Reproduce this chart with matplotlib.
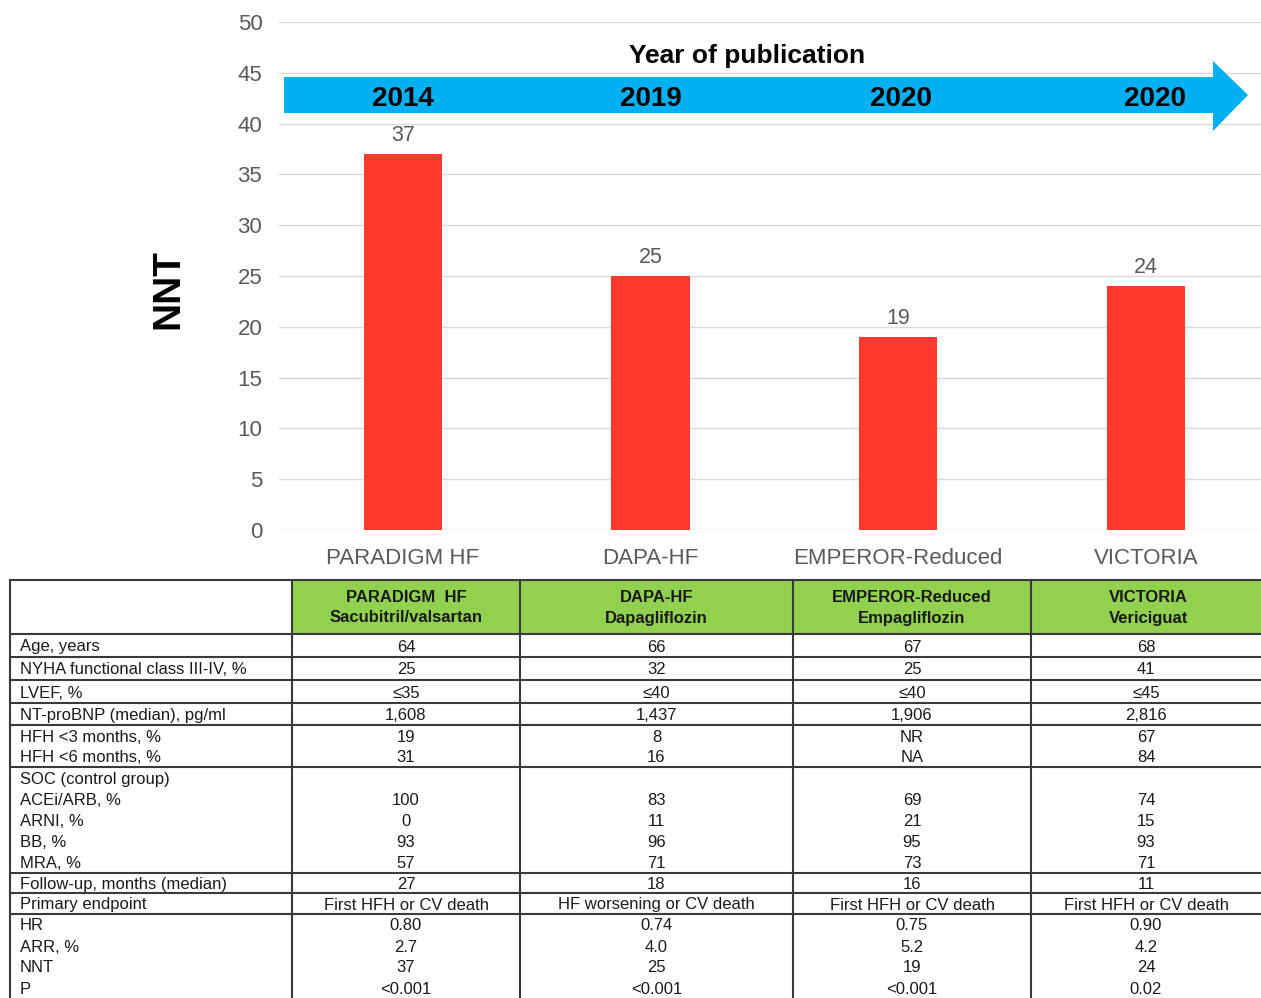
import matplotlib
matplotlib.use('Agg')
import matplotlib.pyplot as plt
from matplotlib.patches import Polygon, Rectangle

plt.rcParams['font.family'] = ['Liberation Sans', 'DejaVu Sans']

# Data
trials = ['PARADIGM HF', 'DAPA-HF', 'EMPEROR-Reduced', 'VICTORIA']
nnt = [37, 25, 19, 24]
years = ['2014', '2019', '2020', '2020']

table_heads = ['PARADIGM  HF', 'DAPA-HF', 'EMPEROR-Reduced', 'VICTORIA']
drugs = ['Sacubitril/valsartan', 'Dapagliflozin', 'Empagliflozin', 'Vericiguat']

row_groups = [
    ['Age, years'],
    ['NYHA functional class III-IV, %'],
    ['LVEF, %'],
    ['NT-proBNP (median), pg/ml'],
    ['HFH <3 months, %', 'HFH <6 months, %'],
    ['SOC (control group)', 'ACEi/ARB, %', 'ARNI, %', 'BB, %', 'MRA, %'],
    ['Follow-up, months (median)'],
    ['Primary endpoint'],
    ['HR', 'ARR, %', 'NNT', 'P'],
]
paradigm_vals = [['64'], ['25'], ['≤35'], ['1,608'], ['19', '31'],
                 ['', '100', '0', '93', '57'], ['27'], ['First HFH or CV death'],
                 ['0.80', '2.7', '37', '<0.001']]
dapa_vals = [['66'], ['32'], ['≤40'], ['1,437'], ['8', '16'],
             ['', '83', '11', '96', '71'], ['18'], ['HF worsening or CV death'],
             ['0.74', '4.0', '25', '<0.001']]
emperor_vals = [['67'], ['25'], ['≤40'], ['1,906'], ['NR', 'NA'],
                ['', '69', '21', '95', '73'], ['16'], ['First HFH or CV death'],
                ['0.75', '5.2', '19', '<0.001']]
victoria_vals = [['68'], ['41'], ['≤45'], ['2,816'], ['67', '84'],
                 ['', '74', '15', '93', '71'], ['11'], ['First HFH or CV death'],
                 ['0.90', '4.2', '24', '0.02']]
col_vals = [paradigm_vals, dapa_vals, emperor_vals, victoria_vals]

W, H = 1261, 998
fig = plt.figure(figsize=(W / 100, H / 100), dpi=100)

# Bar chart
ax = fig.add_axes([279 / W, 1 - 530 / H, (W - 279) / W, (530 - 22) / H])
ax.patch.set_visible(False)
x = list(range(len(trials)))
ax.bar(x, nnt, width=0.315, color='#FD3A2D', zorder=2)
for xi, v in zip(x, nnt):
    ax.annotate(str(v), (xi, v), xytext=(0, 6), textcoords='offset points',
                ha='center', va='bottom', fontsize=15.5, color='#595959')
ax.set_ylim(0, 50)
ax.set_xlim(-0.5, 3.465)
ax.set_yticks(range(0, 51, 5))
ax.set_xticks(x)
ax.set_xticklabels(trials, fontsize=16, color='#595959')
ax.tick_params(axis='y', labelsize=16, labelcolor='#595959', length=0, pad=12)
ax.tick_params(axis='x', length=0, pad=13)
ax.grid(axis='y', color='#d9d9d9', linewidth=1, zorder=0)
for s in ax.spines.values():
    s.set_visible(False)

# overlay in pixel coordinates for arrow and table
ov = fig.add_axes([0, 0, 1, 1], zorder=5)
ov.set_xlim(0, W)
ov.set_ylim(H, 0)
ov.axis('off')
ov.patch.set_visible(False)

# timeline arrow (drawn on bar axes so years sit on top)
arrow = Polygon([(284, 77), (1213, 77), (1213, 61), (1248, 95), (1213, 131),
                 (1213, 113), (284, 113)], closed=True, facecolor='#00B0F0',
                edgecolor='none', transform=ov.transData, zorder=3, clip_on=False)
ax.add_patch(arrow)
year_shift = [0, 0, 0.01, 0.035]
for xi, yr, dx in zip(x, years, year_shift):
    ax.text(xi + dx, 42.4, yr, ha='center', va='center', fontsize=20,
            fontweight='bold', color='black', zorder=4)
ov.text(747, 56, 'Year of publication', ha='center', va='center', fontsize=19,
        fontweight='bold')
ov.text(168, 289, 'NNT', ha='center', va='center', fontsize=28,
        fontweight='bold', rotation=90)

# Table
col_x = [10, 292, 520, 793, 1031, W + 5]
row_y = [580, 634, 657, 680, 703, 725, 767, 873, 893, 914, 998]
lc = '#3a3a3a'
ov.add_patch(Rectangle((col_x[1], row_y[0]), col_x[-1] - col_x[1],
                       row_y[1] - row_y[0], facecolor='#92D050', edgecolor='none'))
for yy in row_y[:-1]:
    ov.plot([col_x[0], col_x[-1]], [yy, yy], color=lc, lw=1.5)
for xx in col_x[:-1]:
    ov.plot([xx, xx], [row_y[0], H], color=lc, lw=1.5)

narrow = ['Liberation Sans Narrow', 'Liberation Sans', 'DejaVu Sans']
hdr_mid = (row_y[0] + row_y[1]) / 2
for j in range(4):
    cx = (col_x[j + 1] + col_x[j + 2]) / 2
    ov.text(cx, hdr_mid - 10, table_heads[j], ha='center', va='center',
            fontsize=12, fontweight='bold', family=narrow, color='#1a1a1a')
    ov.text(cx, hdr_mid + 11, drugs[j], ha='center', va='center',
            fontsize=12, fontweight='bold', family=narrow, color='#1a1a1a')

for g, labels in enumerate(row_groups):
    top, bot = row_y[g + 1], row_y[g + 2]
    n = len(labels)
    step = (bot - top) / n
    for k, lab in enumerate(labels):
        yy = top + (k + 0.5) * step + 1.5
        ov.text(20, yy, lab, ha='left', va='center', fontsize=12, color='#1a1a1a')
        for j in range(4):
            cx = (col_x[j + 1] + col_x[j + 2]) / 2
            if j == 3:
                cx = (col_x[4] + W) / 2
            ov.text(cx, yy, col_vals[j][g][k], ha='center', va='center',
                    fontsize=12, color='#1a1a1a')

fig.savefig('out.png', dpi=100)
